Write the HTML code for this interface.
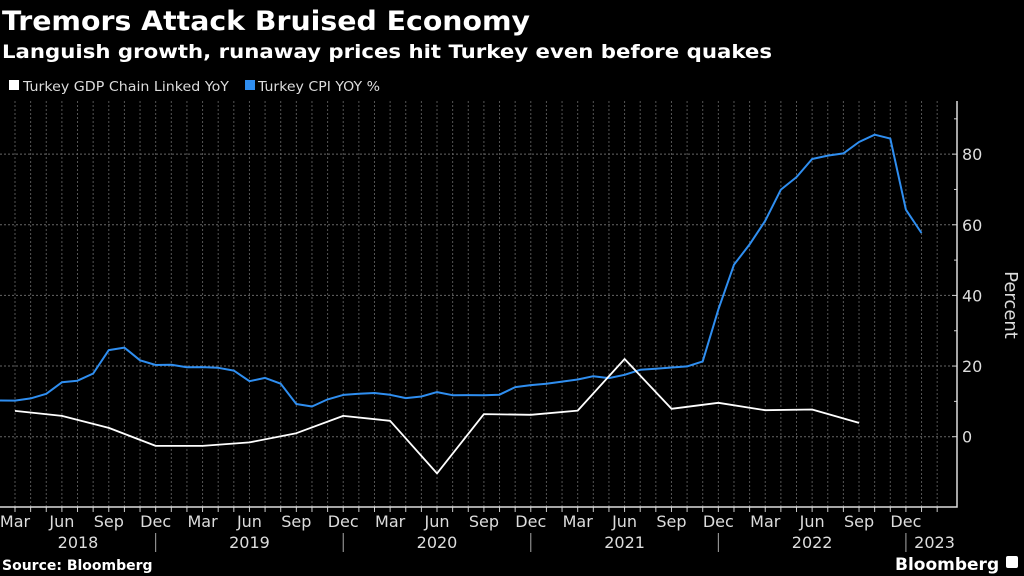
<!DOCTYPE html>
<html><head><meta charset="utf-8"><style>
html,body{margin:0;padding:0;background:#000;width:1024px;height:576px;overflow:hidden}
svg{display:block}
text{font-family:"DejaVu Sans","Liberation Sans",sans-serif}
</style></head><body>
<svg id="chart" width="1024" height="576" viewBox="0 0 1024 576">
<text x="2" y="30" fill="#fff" font-size="27" font-weight="bold" textLength="528" lengthAdjust="spacingAndGlyphs">Tremors Attack Bruised Economy</text>
<text x="2" y="58" fill="#fff" font-size="19" font-weight="bold" textLength="770" lengthAdjust="spacingAndGlyphs">Languish growth, runaway prices hit Turkey even before quakes</text>
<g>
<g><rect x="9" y="80" width="10" height="10" fill="#fff"/><text x="23" y="91" fill="#ddd" font-size="13.5" textLength="206" lengthAdjust="spacingAndGlyphs">Turkey GDP Chain Linked YoY</text></g>
<g><rect x="245" y="80" width="10" height="10" fill="#2f8ef0"/><text x="258" y="91" fill="#ddd" font-size="13.5" textLength="122" lengthAdjust="spacingAndGlyphs">Turkey CPI YOY %</text></g>
</g>
<g id="grid"></g>
<g id="axes"></g>
<g id="series"></g>
<text x="2" y="570" fill="#fff" font-size="14" font-weight="bold">Source: Bloomberg</text>
<text x="895" y="570" fill="#fff" font-size="17" font-family="Liberation Sans" font-weight="bold">Bloomberg</text>
<rect x="1006" y="556" width="12" height="12" rx="2" fill="#fff"/>
</svg>
<script>
// month index from Jan 2018 (0 = Jan 2018)
const cpiStartMonth = 1;
const cpiValues = [10.26,10.23,10.85,12.15,15.39,15.85,17.90,24.52,25.24,21.62,20.30,
20.35,19.67,19.71,19.50,18.71,15.72,16.65,15.01,9.26,8.55,10.56,11.84,
12.15,12.37,11.86,10.94,11.39,12.62,11.76,11.77,11.75,11.89,14.03,14.60,
14.97,15.61,16.19,17.14,16.59,17.53,18.95,19.25,19.58,19.89,21.31,36.08,
48.69,54.44,61.14,69.97,73.50,78.62,79.60,80.21,83.45,85.51,84.39,64.27,
57.68];
const gdpMonths = [2,5,8,11,14,17,20,23,26,29,32,35,38,41,44,47,50,53,56];
const gdpValues = [7.3,5.9,2.5,-2.6,-2.6,-1.6,1.0,5.9,4.5,-10.4,6.4,6.2,7.4,22.0,7.9,9.6,7.5,7.7,3.9];
const yTicks = [0,20,40,60,80];
const monthLabels = ["Mar","Jun","Sep","Dec"];
const years = ["2018","2019","2020","2021","2022","2023"];

const NS="http://www.w3.org/2000/svg";
const x = m => 15 + (m-2)*15.63;
const y = v => 436.7 - v*3.532;
function mk(tag, attrs, parent){const e=document.createElementNS(NS,tag);for(const k in attrs)e.setAttribute(k,attrs[k]);parent.appendChild(e);return e;}
const grid=document.getElementById('grid'), axes=document.getElementById('axes'), series=document.getElementById('series');
const yBot=507, yTop=101, xR=957;
// vertical monthly gridlines
for(let m=1;m<=61;m++){
  const gx=x(m); if(gx<0||gx>xR-3) continue;
  const l=mk('line',{x1:gx,x2:gx,y1:yTop,y2:yBot,stroke:'#555','stroke-width':1,'stroke-dasharray':'2,2'},grid);
  
  
  mk('line',{x1:gx,x2:gx,y1:yBot,y2:yBot+5,stroke:'#ccc','stroke-width':1},axes);
}
yTicks.forEach(v=>{
  const l=mk('line',{x1:0,x2:xR,y1:y(v),y2:y(v),stroke:'#666','stroke-width':1,'stroke-dasharray':'2,2'},grid);
  
  
  mk('line',{x1:xR-5,x2:xR,y1:y(v),y2:y(v),stroke:'#ccc'},axes);
  const t=mk('text',{x:962,y:y(v)+6,fill:'#ddd','font-size':16,'font-family':'Liberation Sans'},axes);
  t.textContent=v;
  
  
});
for(let v=10;v<=90;v+=20) mk('line',{x1:xR-3,x2:xR,y1:y(v),y2:y(v),stroke:'#ccc'},axes);
const ax=mk('path',{d:`M${xR},${yTop} L${xR},${yBot} L0,${yBot}`,fill:'none',stroke:'#ddd','stroke-width':1.5},axes);


const yt=mk('text',{x:0,y:0,fill:'#ddd','font-size':18,'font-family':'Liberation Sans','text-anchor':'middle',transform:'translate(1005,305) rotate(90)'},axes);
yt.textContent='Percent';


// month labels
for(let m=2;m<=59;m+=3){
  const t=mk('text',{x:x(m),y:527,fill:'#ddd','font-size':16,'font-family':'Liberation Sans','text-anchor':'middle'},axes);
  t.textContent=monthLabels[((m-2)/3)%4];
  
  
}
years.forEach((yr,i)=>{
  const s=12*i, e=Math.min(12*i+11,60);
  let cx = i===5 ? x(60)+13 : (x(Math.max(s-1,-0.05))+x(e))/2;
  if(i===0) cx=78;
  const t=mk('text',{x:cx,y:548,fill:'#ddd','font-size':16,'font-family':'Liberation Sans','text-anchor':'middle'},axes);
  t.textContent=yr;
  
  
  if(i<5) mk('line',{x1:x(12*i+11),x2:x(12*i+11),y1:533,y2:552,stroke:'#aaa'},axes);
});
// series
let d='';
cpiValues.forEach((v,i)=>{d+=(i?'L':'M')+x(cpiStartMonth+i).toFixed(1)+','+y(v).toFixed(1);});
const cp=mk('path',{d:d,fill:'none',stroke:'#2f8ef0','stroke-width':2,'stroke-linejoin':'round'},series);


d='';
gdpValues.forEach((v,i)=>{d+=(i?'L':'M')+x(gdpMonths[i]).toFixed(1)+','+y(v).toFixed(1);});
const gp=mk('path',{d:d,fill:'none',stroke:'#fff','stroke-width':1.8,'stroke-linejoin':'round'},series);


</script>
</body></html>
